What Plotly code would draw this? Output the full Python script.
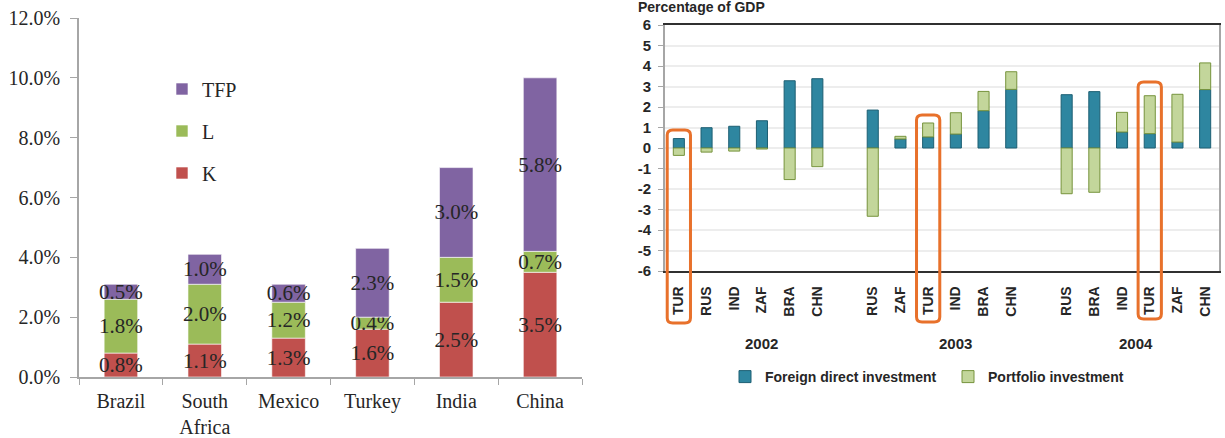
import plotly.graph_objects as go

# ---------------- Left chart data ----------------
countries = ["Brazil", "South<br>Africa", "Mexico", "Turkey", "India", "China"]
k_vals = [0.8, 1.1, 1.3, 1.6, 2.5, 3.5]
l_vals = [1.8, 2.0, 1.2, 0.4, 1.5, 0.7]
tfp_vals = [0.5, 1.0, 0.6, 2.3, 3.0, 5.8]
left_yticks = [0, 2, 4, 6, 8, 10, 12]

# ---------------- Right chart data ----------------
years = ["2002", "2003", "2004"]
codes_2002 = ["TUR", "RUS", "IND", "ZAF", "BRA", "CHN"]
fdi_2002 = [0.46, 0.99, 1.06, 1.33, 3.28, 3.38]
pi_2002 = [-0.36, -0.20, -0.15, -0.05, -1.54, -0.91]
codes_2003 = ["RUS", "ZAF", "TUR", "IND", "BRA", "CHN"]
fdi_2003 = [1.85, 0.44, 0.54, 0.68, 1.82, 2.86]
pi_2003 = [-3.33, 0.13, 0.68, 1.04, 0.94, 0.86]
codes_2004 = ["RUS", "BRA", "IND", "TUR", "ZAF", "CHN"]
fdi_2004 = [2.60, 2.75, 0.78, 0.70, 0.29, 2.85]
pi_2004 = [-2.23, -2.16, 0.96, 1.85, 2.33, 1.30]
right_yticks = list(range(-6, 7))

W, H = 1225, 438
def px(v):
    return v / W
def py(v):
    return 1 - v / H

# slots: groups of 6 separated by one empty slot
groups = [(codes_2002, fdi_2002, pi_2002), (codes_2003, fdi_2003, pi_2003), (codes_2004, fdi_2004, pi_2004)]
slots, codes, fdi, pi = [], [], [], []
for g, (c, f, p) in enumerate(groups):
    for i in range(len(c)):
        slots.append(g * 7 + i)
        codes.append(c[i])
        fdi.append(f[i])
        pi.append(p[i])

serif = "Liberation Serif"
sans = "Liberation Sans"
txt = "#262626"

fig = go.Figure()

def pct(vals):
    return [f"{v:.1f}%" for v in vals]

left_series = [("K", k_vals, "#C0504D", "legend3"),
               ("L", l_vals, "#9BBB59", "legend2"),
               ("TFP", tfp_vals, "#8064A2", "legend")]
for name, vals, col, leg in left_series:
    fig.add_trace(go.Bar(
        x=countries, y=vals, name=name, xaxis="x", yaxis="y",
        marker=dict(color=col, line=dict(color="white", width=0.6)),
        text=pct(vals), textposition="inside", insidetextanchor="middle",
        textangle=0, constraintext="none",
        insidetextfont=dict(family=serif, size=21, color=txt),
        legend=leg, hoverinfo="skip"))

fig.add_trace(go.Bar(
    x=slots, y=fdi, name="Foreign direct investment", xaxis="x2", yaxis="y2",
    marker=dict(color="#2E86A0", line=dict(color="#1D5F73", width=1)),
    legend="legend4", hoverinfo="skip"))
fig.add_trace(go.Bar(
    x=slots, y=pi, name="Portfolio investment", xaxis="x2", yaxis="y2",
    marker=dict(color="#C3D69B", line=dict(color="#76933C", width=1)),
    legend="legend5", hoverinfo="skip"))

leg_left_font = dict(family=serif, size=20, color=txt)
leg_right_font = dict(family=sans, size=14, color=txt, weight="bold")
def leg(xc, yc, font):
    return dict(x=px(xc - 20), y=py(yc), xanchor="left", yanchor="middle",
                bgcolor="rgba(0,0,0,0)", borderwidth=0, font=font)

fig.update_layout(
    width=W, height=H, margin=dict(l=0, r=0, t=0, b=0),
    paper_bgcolor="white", plot_bgcolor="white",
    barmode="relative", bargap=0.6, showlegend=True,
    legend=leg(182, 89, leg_left_font),
    legend2=leg(182, 131, leg_left_font),
    legend3=leg(182, 173, leg_left_font),
    legend4=leg(745, 377, leg_right_font),
    legend5=leg(968, 377, leg_right_font),
    xaxis=dict(domain=[px(79), px(582)], type="category", anchor="y",
               showline=True, linecolor="#A6A6A6", linewidth=1.5,
               ticks="outside", tickson="boundaries", ticklen=6, tickcolor="#A6A6A6",
               ticklabelstandoff=5,
               tickfont=dict(family=serif, size=20, color=txt),
               showgrid=False, zeroline=False, automargin=False),
    yaxis=dict(domain=[py(377), py(18)], range=[0, 12], anchor="x",
               tickvals=left_yticks, ticktext=[f"{v:.1f}%" for v in left_yticks],
               showline=True, linecolor="#A6A6A6", linewidth=1.5,
               ticks="outside", ticklen=7, tickcolor="#A6A6A6",
               ticklabelstandoff=6,
               tickfont=dict(family=serif, size=20, color=txt),
               showgrid=False, zeroline=False, automargin=False),
    xaxis2=dict(domain=[px(665), px(1219)], range=[-0.5, 19.5], anchor="y2",
                tickvals=slots, ticktext=codes, tickangle=-90,
                tickfont=dict(family=sans, size=14, color=txt, weight="bold"),
                showline=True, mirror=True, linecolor="#303030", linewidth=1.5,
                ticks="", ticklabelstandoff=8,
                showgrid=False, zeroline=False, automargin=False),
    yaxis2=dict(domain=[py(271), py(25)], range=[-6, 6], anchor="x2",
                tickvals=right_yticks, ticktext=[str(v) for v in right_yticks],
                tickfont=dict(family=sans, size=15, color=txt, weight="bold"),
                showline=True, mirror=True, linecolor="#A6A6A6", linewidth=2,
                ticks="outside", ticklen=5, tickcolor="#A6A6A6",
                ticklabelstandoff=4,
                showgrid=True, gridcolor="#EDEDED", gridwidth=1.5,
                zeroline=False, automargin=False),
)

# Year labels under the right chart
year_pos = [3, 10, 16.5]
for yr, xp in zip(years, year_pos):
    fig.add_annotation(x=xp, y=py(343), xref="x2", yref="paper", text=yr,
                       showarrow=False, xanchor="center", yanchor="middle",
                       font=dict(family=sans, size=15, color=txt, weight="bold"))

fig.add_annotation(x=px(636), y=py(7.5), xref="paper", yref="paper",
                   text="Percentage of GDP", showarrow=False,
                   xanchor="left", yanchor="middle",
                   font=dict(family=sans, size=14, color=txt, weight="bold"))

# Orange highlight boxes around TUR columns
box_tops = [130, 115, 82]
box_bottom = [323, 322, 319]
for g, (c, f, p) in enumerate(groups):
    s = g * 7 + c.index("TUR")
    x0, x1 = s - 0.42, s + 0.42
    y0, y1 = py(box_bottom[g]), py(box_tops[g])
    rx, ry = 0.2, 5 / H
    path = (f"M{x0+rx},{y1} L{x1-rx},{y1} Q{x1},{y1} {x1},{y1-ry} "
            f"L{x1},{y0+ry} Q{x1},{y0} {x1-rx},{y0} L{x0+rx},{y0} "
            f"Q{x0},{y0} {x0},{y0+ry} L{x0},{y1-ry} Q{x0},{y1} {x0+rx},{y1} Z")
    fig.add_shape(type="path", path=path, xref="x2", yref="paper",
                  line=dict(color="#E8712B", width=3), fillcolor="rgba(0,0,0,0)")

fig.write_html("out.html", config={"displayModeBar": False},
               post_script="document.body.style.margin='0';document.body.style.overflow='hidden';")
